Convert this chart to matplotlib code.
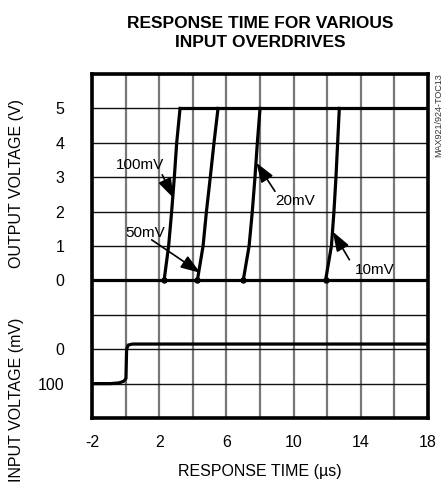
import matplotlib
matplotlib.use("Agg")
import matplotlib.pyplot as plt
from matplotlib import font_manager

names = {f.name for f in font_manager.fontManager.ttflist}
FAM = 'Liberation Sans Narrow' if 'Liberation Sans Narrow' in names else 'Liberation Sans'
plt.rcParams['font.family'] = [FAM, 'DejaVu Sans']
plt.rcParams['axes.unicode_minus'] = False

# ---- data ----
overdrive_labels = ['100mV', '50mV', '20mV', '10mV']
rise_voltage = [0, 1, 2, 3, 4, 5]
rise_time_100 = [2.29, 2.56, 2.74, 2.90, 3.04, 3.24]
rise_time_50 = [4.27, 4.61, 4.81, 5.04, 5.26, 5.50]
rise_time_20 = [7.00, 7.35, 7.54, 7.70, 7.84, 8.00]
rise_time_10 = [11.90, 12.25, 12.40, 12.52, 12.62, 12.72]

baseline_t = [-2, 18]
baseline_v = [0, 0]
high_t = [3.24, 18]
high_v = [5, 5]

input_t = [-2.0, -0.9, -0.4, -0.1, 0.02, 0.06, 0.15, 0.4, 18.0]
input_mv = [-100, -100, -98, -93, -85, 0, 12, 15, 15]

x_major = [-2, 2, 6, 10, 14, 18]
x_minor = [0, 4, 8, 12, 16]
out_ticks = [0, 1, 2, 3, 4, 5]
out_minor = [-4, -3, -2, -1, 6]
in_ticks = [0, -100]
in_ticklabels = ['0', '100']

# label text position (t, V), arrow tail (t, V), arrow tip (t, V)
label_pos = [(0.86, 3.36), (1.15, 1.38), (10.08, 2.30), (14.85, 0.31)]
arrow_tail = [(2.18, 3.07), (1.55, 1.18), (8.89, 2.59), (13.32, 0.60)]
arrow_tip = [(2.84, 2.40), (4.45, 0.22), (7.78, 3.42), (12.33, 1.42)]

# ---- figure ----
fig = plt.figure(figsize=(4.43, 4.86), dpi=100)
ax = fig.add_axes([0.2077, 0.1399, 0.7585, 0.7078])
ax.set_xlim(-2, 18)
ax.set_ylim(-4, 6)

ax.set_xticks(x_major)
ax.set_xticks(x_minor, minor=True)
ax.set_yticks(out_ticks)
ax.set_yticks(out_minor, minor=True)
ax.tick_params(which='both', length=0)
ax.tick_params(axis='y', pad=20, labelsize=11.5)
ax.tick_params(axis='x', pad=12, labelsize=11.5)
ax.xaxis.grid(True, which='both', color='#777777', linewidth=1.6)
ax.yaxis.grid(True, which='both', color='#111111', linewidth=1.0)
ax.set_axisbelow(True)
for s in ax.spines.values():
    s.set_linewidth(2.6)
    s.set_zorder(5)

lw = 2.3
ax.plot(baseline_t, baseline_v, color='black', lw=lw, solid_capstyle='butt')
ax.plot(high_t, high_v, color='black', lw=lw, solid_capstyle='butt')
for rt in (rise_time_100, rise_time_50, rise_time_20, rise_time_10):
    ax.plot(rt, rise_voltage, color='black', lw=lw, solid_joinstyle='round')
    ax.plot(rt[0], rise_voltage[0], 'o', color='black', ms=3.6)

for lab, tpos, tail, tip in zip(overdrive_labels, label_pos, arrow_tail, arrow_tip):
    ax.annotate('', xy=tip, xytext=tail,
                arrowprops=dict(arrowstyle='-|>,head_length=1.2,head_width=0.42',
                                color='black', lw=1.2, shrinkA=0, shrinkB=0))
    ax.text(tpos[0], tpos[1], lab, fontsize=11, ha='center', va='center', zorder=6)

# input axis
ax2 = ax.twinx()
ax2.set_ylim(-200, 800)
ax2.yaxis.set_ticks_position('left')
ax2.set_yticks(in_ticks)
ax2.set_yticklabels(in_ticklabels)
ax2.tick_params(length=0, pad=20, labelsize=11.5)
for s in ax2.spines.values():
    s.set_visible(False)
ax2.plot(input_t, input_mv, color='black', lw=lw)

# texts
fig.text(0.587, 0.932, 'RESPONSE TIME FOR VARIOUS\nINPUT OVERDRIVES', ha='center', va='center',
         fontsize=12.5, fontweight='bold', linespacing=1.3)
fig.text(17 / 443, 1 - 183 / 486, 'OUTPUT VOLTAGE (V)', rotation=90, ha='center', va='center', fontsize=11.5)
fig.text(17 / 443, 1 - 400 / 486, 'INPUT VOLTAGE (mV)', rotation=90, ha='center', va='center', fontsize=11.5)
fig.text(260 / 443, 1 - 471 / 486, 'RESPONSE TIME (µs)', ha='center', va='center', fontsize=11.5)
fig.text(439 / 443, 1 - 73 / 486, 'MAX921/924-TOC13', rotation=90, ha='center', va='top',
         fontsize=6.5, color='#333333')

fig.savefig('out.png', dpi=100)
